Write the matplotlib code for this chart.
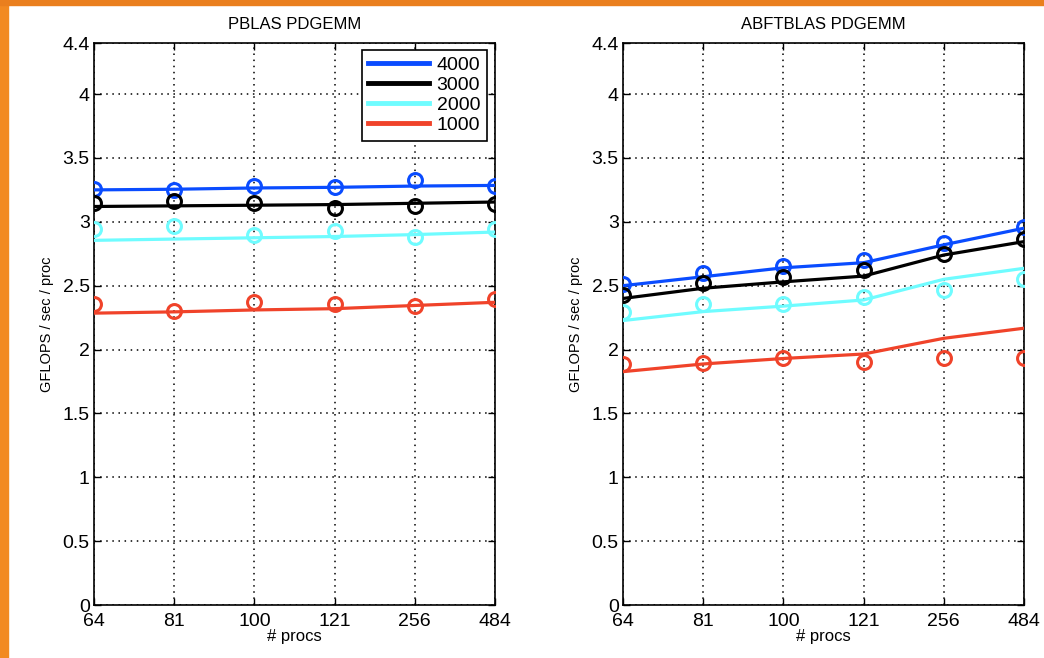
import numpy as np
import matplotlib
matplotlib.use('Agg')
from matplotlib import pyplot as plt
from matplotlib.patches import Rectangle

plt.rcParams['font.family'] = ['Liberation Sans', 'DejaVu Sans']

procs = ['64', '81', '100', '121', '256', '484']
sizes = ['4000', '3000', '2000', '1000']
colors = ['#0a4cff', '#000000', '#6ffcff', '#f0432a']

# PBLAS: lines (model) and circles (measured)
pblas_line = {
    '4000': [3.25, 3.255, 3.265, 3.27, 3.28, 3.285],
    '3000': [3.12, 3.125, 3.13, 3.135, 3.145, 3.155],
    '2000': [2.855, 2.865, 2.875, 2.885, 2.90, 2.92],
    '1000': [2.285, 2.295, 2.31, 2.32, 2.345, 2.37],
}
pblas_pts = {
    '4000': [3.255, 3.25, 3.28, 3.275, 3.33, 3.28],
    '3000': [3.145, 3.165, 3.145, 3.105, 3.125, 3.14],
    '2000': [2.944, 2.97, 2.90, 2.93, 2.88, 2.944],
    '1000': [2.355, 2.30, 2.37, 2.36, 2.34, 2.395],
}

# ABFTBLAS
abft_line = {
    '4000': [2.50, 2.57, 2.64, 2.68, 2.82, 2.95],
    '3000': [2.40, 2.48, 2.53, 2.575, 2.74, 2.845],
    '2000': [2.227, 2.297, 2.34, 2.388, 2.55, 2.636],
    '1000': [1.827, 1.887, 1.93, 1.965, 2.088, 2.167],
}
abft_pts = {
    '4000': [2.514, 2.597, 2.657, 2.70, 2.837, 2.957],
    '3000': [2.428, 2.52, 2.567, 2.623, 2.746, 2.864],
    '2000': [2.292, 2.355, 2.36, 2.414, 2.467, 2.553],
    '1000': [1.885, 1.893, 1.932, 1.905, 1.93, 1.935],
}

yticks = [0, 0.5, 1, 1.5, 2, 2.5, 3, 3.5, 4, 4.4]
ylabels = ['0', '0.5', '1', '1.5', '2', '2.5', '3', '3.5', '4', '4.4']

fig = plt.figure(figsize=(10.44, 6.58), dpi=100)
ax1 = fig.add_axes([94/1044, 1-605/658, 401/1044, 562/658])
ax2 = fig.add_axes([623/1044, 1-605/658, 401/1044, 562/658])

x = np.arange(len(procs))

def draw(ax, lines, pts, title):
    for s, c in zip(sizes, colors):
        ax.plot(x, lines[s], color=c, lw=2.3, label=s, zorder=3)
        ax.plot(x, pts[s], 'o', mfc='none', mec=c, mew=2.2, ms=10, zorder=4)
    ax.set_xlim(0, len(procs)-1)
    ax.set_ylim(0, 4.4)
    ax.set_xticks(x)
    ax.set_xticklabels(procs, fontsize=14)
    ax.set_yticks(yticks)
    ax.set_yticklabels(ylabels, fontsize=14)
    ax.tick_params(direction='in', top=True, right=True, length=5, width=1)
    ax.tick_params(axis='x', pad=6)
    ax.tick_params(axis='y', pad=3)
    ax.grid(True, color='black', linestyle=(0, (1, 3)), lw=1.1)
    for sp in ax.spines.values():
        sp.set_linewidth(1.2)
    ax.set_title(title, fontsize=12, pad=10)
    ax.set_xlabel('# procs', fontsize=12, labelpad=-1)
    ax.set_ylabel('GFLOPS / sec / proc', fontsize=10.5, labelpad=6)

draw(ax1, pblas_line, pblas_pts, 'PBLAS PDGEMM')
draw(ax2, abft_line, abft_pts, 'ABFTBLAS PDGEMM')

leg = ax1.legend(loc='upper right', bbox_to_anchor=(0.98, 0.988), fontsize=14,
                 handlelength=3.1, handletextpad=0.4, labelspacing=0.12,
                 borderpad=0.35, borderaxespad=0.0, fancybox=False,
                 framealpha=1, edgecolor='black')
for h in leg.get_lines():
    h.set_linewidth(3.5)
leg.get_frame().set_linewidth(1.2)

# orange slide border
fig.patches.append(Rectangle((0, 0), 8/1044, 1, transform=fig.transFigure,
                             color='#f28a22', zorder=10))
fig.patches.append(Rectangle((0, 1-5/658), 1, 5/658, transform=fig.transFigure,
                             color='#ea7f1e', zorder=10))

fig.savefig('out.png', dpi=100)
